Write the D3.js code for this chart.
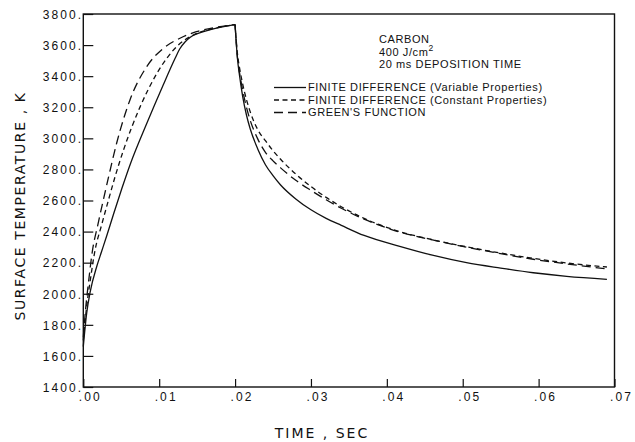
<!DOCTYPE html>
<html>
<head>
<meta charset="utf-8">
<script src="https://cdn.jsdelivr.net/npm/d3@7"></script>
<style>
  html, body { margin: 0; padding: 0; background: #fff; }
  svg { display: block; }
</style>
</head>
<body>
<svg id="chart" width="635" height="442"></svg>
<script>
// ---- data (time in ms, temperature in K) ----
const xTicks = [0, 10, 20, 30, 40, 50, 60, 70];
const xTickLabels = [".00", ".01", ".02", ".03", ".04", ".05", ".06", ".07"];
const yTicks = [1400, 1600, 1800, 2000, 2200, 2400, 2600, 2800, 3000, 3200, 3400, 3600, 3800];
const yTickLabels = ["1400.", "1600.", "1800.", "2000.", "2200.", "2400.", "2600.", "2800.", "3000.", "3200.", "3400.", "3600.", "3800."];

// heating phase (0 - 20 ms)
const variableHeatT = [0, 0.45, 0.9, 1.8, 2.4, 3.1, 4.0, 5.1, 6.2, 8.4, 10.5, 12.1, 12.7, 13.4, 14.1, 16.3, 20];
const variableHeatK = [1660, 1876, 2010, 2180, 2270, 2375, 2515, 2680, 2835, 3100, 3340, 3515, 3575, 3620, 3650, 3693, 3732];
const constantHeatT = [0, 0.4, 0.9, 1.55, 2.4, 3.3, 4.2, 5.3, 7.5, 9.7, 12.3, 14.5, 17.5, 20];
const constantHeatK = [1700, 1900, 2080, 2281, 2440, 2600, 2755, 2925, 3204, 3418, 3590, 3665, 3710, 3732];
const greenHeatT = [0, 0.3, 0.7, 1.2, 1.9, 2.6, 3.3, 4.4, 6.15, 8.35, 10.54, 12.74, 14.9, 17.5, 20];
const greenHeatK = [1720, 1900, 2080, 2275, 2440, 2595, 2745, 2970, 3247, 3461, 3579, 3644, 3686, 3715, 3732];

// cooling phase (20 - 69 ms)
const coolT = [20, 20.3, 20.6, 21, 21.5, 22, 23, 24, 25, 26, 28, 30, 32, 34, 37, 41.7, 46, 50.5, 55, 59.3, 63.7, 69];
const variableCoolK = [3732, 3520, 3400, 3270, 3150, 3060, 2930, 2830, 2760, 2700, 2610, 2540, 2485, 2440, 2375, 2305, 2248, 2200, 2165, 2135, 2112, 2093];
const constantCoolK = [3732, 3550, 3450, 3350, 3250, 3170, 3055, 2985, 2920, 2865, 2770, 2690, 2620, 2560, 2485, 2400, 2348, 2302, 2262, 2228, 2198, 2172];
const greenCoolK = [3732, 3530, 3420, 3310, 3200, 3115, 2995, 2910, 2855, 2810, 2730, 2665, 2605, 2550, 2480, 2397, 2346, 2300, 2258, 2222, 2192, 2160];

const seriesNames = ["FINITE DIFFERENCE (Variable Properties)", "FINITE DIFFERENCE (Constant Properties)", "GREEN'S FUNCTION"];
const annotationLines = ["CARBON", "400 J/cm", "20 ms DEPOSITION TIME"];

// ---- layout ----
const svg = d3.select("#chart");
const plotL = 83.3, plotR = 614.5, plotT = 14, plotB = 387;

const x = d3.scaleLinear().domain([0, 70]).range([plotL, plotR]);
const y = d3.scaleLinear().domain([1400, 3800]).range([plotB, plotT]);

const ink = "#111";
const tickFont = "'Liberation Sans', Arial, sans-serif";

// frame
svg.append("rect")
  .attr("x", plotL).attr("y", plotT)
  .attr("width", plotR - plotL).attr("height", plotB - plotT)
  .attr("fill", "none").attr("stroke", ink).attr("stroke-width", 1.4);

// y axis (inward ticks)
const yAxis = d3.axisLeft(y).tickValues(yTicks)
  .tickSize(-10).tickPadding(3)
  .tickFormat((d, i) => yTickLabels[i]);
const gy = svg.append("g").attr("transform", `translate(${plotL},0)`).call(yAxis);
gy.select(".domain").remove();
gy.selectAll(".tick line").attr("stroke", ink).attr("stroke-width", 1.2);
gy.selectAll(".tick text")
  .attr("fill", ink).attr("font-family", tickFont).attr("font-size", 12)
  .attr("letter-spacing", 2.1)
  .attr("x", 0).attr("dy", "0.36em");

// x axis (inward ticks)
const xAxis = d3.axisBottom(x).tickValues(xTicks)
  .tickSize(-8).tickPadding(4)
  .tickFormat((d, i) => xTickLabels[i]);
const gx = svg.append("g").attr("transform", `translate(0,${plotB})`).call(xAxis);
gx.select(".domain").remove();
gx.selectAll(".tick line").attr("stroke", ink).attr("stroke-width", 1.2);
gx.selectAll(".tick text")
  .attr("fill", ink).attr("font-family", tickFont).attr("font-size", 12)
  .attr("letter-spacing", 2.1)
  .attr("text-anchor", "start").attr("x", -5).attr("y", 5).attr("dy", "0.71em");

// axis titles
const titleFont = "'DejaVu Sans', sans-serif";
svg.append("text")
  .attr("transform", `translate(25,206) rotate(-90)`)
  .attr("text-anchor", "middle")
  .attr("font-family", titleFont).attr("font-size", 14).attr("letter-spacing", 1.6)
  .attr("fill", ink).text("SURFACE TEMPERATURE , K");
svg.append("text")
  .attr("x", 322).attr("y", 438)
  .attr("text-anchor", "middle")
  .attr("font-family", titleFont).attr("font-size", 14).attr("letter-spacing", 2)
  .attr("fill", ink).text("TIME , SEC");

// curves
const line = d3.line().x(d => x(d[0])).y(d => y(d[1])).curve(d3.curveMonotoneX);
const zip = (a, b) => a.map((v, i) => [v, b[i]]);
const series = [
  { heat: zip(variableHeatT, variableHeatK), cool: zip(coolT, variableCoolK), dash: null },
  { heat: zip(constantHeatT, constantHeatK), cool: zip(coolT, constantCoolK), dash: "5,3.5" },
  { heat: zip(greenHeatT, greenHeatK), cool: zip(coolT, greenCoolK), dash: "9,5" }
];
series.forEach(s => {
  [s.heat, s.cool].forEach(seg => {
    svg.append("path").datum(seg)
      .attr("d", line)
      .attr("fill", "none").attr("stroke", ink).attr("stroke-width", 1.3)
      .attr("stroke-dasharray", s.dash);
  });
});

// annotation
const annFont = "'Liberation Sans', Arial, sans-serif";
const ann = svg.append("g").attr("font-family", annFont).attr("font-size", 11).attr("letter-spacing", 0.6).attr("fill", ink);
ann.append("text").attr("x", 379).attr("y", 43).text(annotationLines[0]);
const t2 = ann.append("text").attr("x", 379).attr("y", 56).text(annotationLines[1]);
t2.append("tspan").attr("dy", -5).attr("font-size", 8.5).text("2");
ann.append("text").attr("x", 379).attr("y", 68).text(annotationLines[2]);

// legend
const legY = [91, 103.5, 116];
const dashes = [null, "5,3.5", "9,5"];
seriesNames.forEach((name, i) => {
  svg.append("line")
    .attr("x1", 274).attr("x2", 306)
    .attr("y1", legY[i] - 3.5).attr("y2", legY[i] - 3.5)
    .attr("stroke", ink).attr("stroke-width", 1.3)
    .attr("stroke-dasharray", dashes[i]);
  ann.append("text").attr("x", 308).attr("y", legY[i]).text(name);
});
</script>
</body>
</html>
